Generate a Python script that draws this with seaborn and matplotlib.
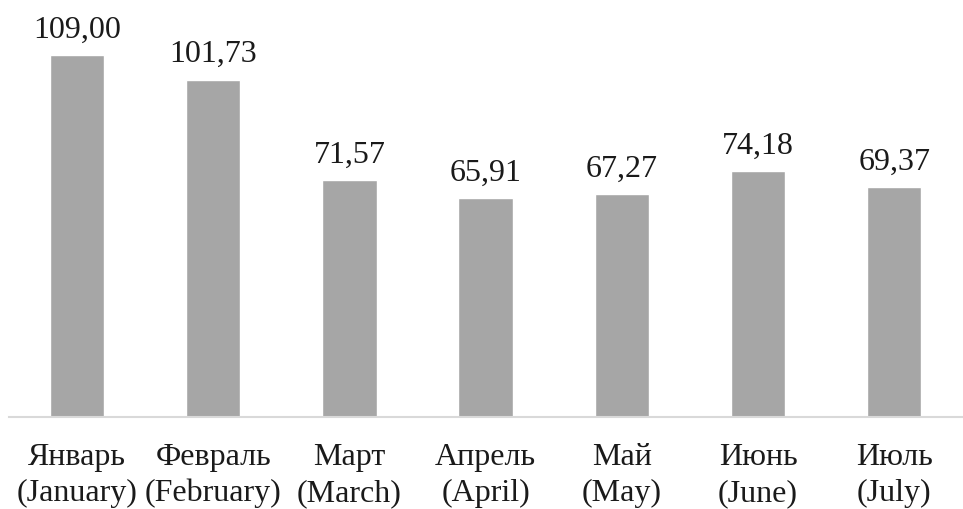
import matplotlib
matplotlib.use("Agg")
import matplotlib.pyplot as plt
import seaborn as sns
import pandas as pd

# Данные
months_ru = ["Январь", "Февраль", "Март", "Апрель", "Май", "Июнь", "Июль"]
months_en = ["(January)", "(February)", "(March)", "(April)", "(May)", "(June)", "(July)"]
values = [109.00, 101.73, 71.57, 65.91, 67.27, 74.18, 69.37]

labels = [f"{ru}\n{en}" for ru, en in zip(months_ru, months_en)]
df = pd.DataFrame({"month": labels, "value": values})

sns.set_theme(style="white")
plt.rcParams["font.family"] = ["Liberation Serif", "DejaVu Serif"]

fig = plt.figure(figsize=(9.63, 5.10), dpi=100)
ax = fig.add_axes([0.0093, 0.180, 0.99, 0.82])

sns.barplot(data=df, x="month", y="value", color="#a6a6a6", saturation=1,
            width=0.4, ax=ax)

for i, v in enumerate(values):
    ax.text(i, v + 3.4, f"{v:.2f}".replace(".", ","), ha="center", va="bottom",
            fontsize=23, color="#1a1a1a")

ax.set_ylim(0, 126)
ax.set_xlim(-0.5, len(values) - 0.5)
ax.set_yticks([])
ax.set_xlabel("")
ax.set_ylabel("")
for s in ["top", "right", "left"]:
    ax.spines[s].set_visible(False)
ax.spines["bottom"].set_color("#d9d9d9")
ax.spines["bottom"].set_linewidth(1.5)
ax.tick_params(axis="x", length=0, pad=18, labelsize=23, labelcolor="#1a1a1a")
for t in ax.get_xticklabels():
    t.set_linespacing(1.3)

fig.savefig("out.png", dpi=100)
